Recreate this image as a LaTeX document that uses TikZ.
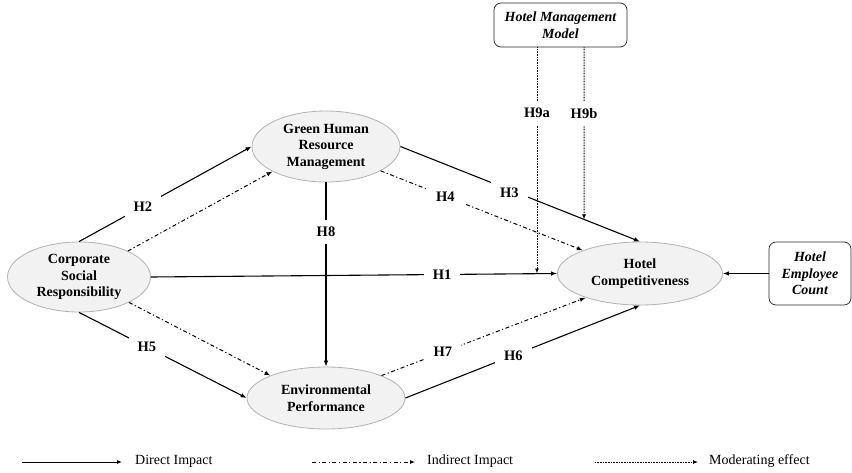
\documentclass[tikz,border=0pt]{standalone}
\usepackage{fontspec}
\setmainfont{Liberation Serif}
\usetikzlibrary{arrows.meta,shapes.geometric,calc}
\begin{document}
\begin{tikzpicture}[x=1pt,y=-1pt,
  construct/.style={ellipse,draw=gray!60,fill=gray!10,line width=0.8pt,inner sep=0pt,align=center,
    font=\fontsize{14}{16.5}\selectfont\bfseries},
  modbox/.style={rectangle,rounded corners=7pt,draw=black!85,line width=0.7pt,fill=white,inner sep=0pt,align=center,
    font=\fontsize{14}{16.5}\selectfont\bfseries\itshape},
  tip/.style={-{Latex[length=6pt,width=4.5pt]}},
  direct/.style={line width=1.1pt,tip},
  indirect/.style={line width=1pt,dash pattern=on 4pt off 2.5pt on 1.2pt off 2.5pt,tip},
  moder/.style={line width=1pt,dash pattern=on 0.8pt off 0.8pt,-{Latex[length=5pt,width=4pt]}},
  hlab/.style={fill=white,inner xsep=9pt,inner ysep=7pt,font=\fontsize{14.5}{16}\selectfont\bfseries},
  legtext/.style={anchor=west,inner sep=0pt,font=\fontsize{14}{16}\selectfont}]
\useasboundingbox (0,0) rectangle (852,472);

% constructs
\node[construct,minimum width=143pt,minimum height=70pt] (csr) at (79,277) {Corporate\\Social\\Responsibility};
\node[construct,minimum width=148pt,minimum height=71pt] (ghrm) at (326,146.5) {Green Human\\Resource\\Management};
\node[construct,minimum width=158pt,minimum height=62pt] (ep) at (326,398) {Environmental\\Performance};
\node[construct,minimum width=165pt,minimum height=63pt] (hc) at (640,273.5) {Hotel\\Competitiveness};

% moderators
\node[modbox,minimum width=133pt,minimum height=44pt] (hmm) at (560.5,25) {Hotel Management\\Model};
\node[modbox,minimum width=82pt,minimum height=63pt] (hec) at (810,273.5) {Hotel\\Employee\\Count};

% direct paths
\draw[direct] (csr.east) -- node[hlab,pos=0.717] {H1} (hc.west);
\draw[direct] (csr.north) -- node[hlab,pos=0.37] {H2} (ghrm.west);
\draw[direct] (ghrm.east) -- node[hlab,pos=0.455,yshift=-3pt] {H3} (hc.north);
\draw[direct] (csr.south) -- node[hlab,pos=0.405] {H5} (ep.west);
\draw[direct] (ep.east) -- node[hlab,pos=0.46] {H6} (hc.south);
\draw[direct] (ghrm.south) -- node[hlab,pos=0.27] {H8} (ep.north);
\draw[direct] (hec.west) -- (hc.east);

% indirect paths
\draw[indirect] (csr.28) -- (ghrm.205);
\draw[indirect] (csr.-27) -- (ep.158);
\draw[indirect] (ghrm.-24) -- node[hlab,pos=0.32] {H4} (hc.158);
\draw[indirect] (ep.22) -- node[hlab,pos=0.30] {H7} (hc.204);

% moderating effects
\coordinate (m1) at ([xshift=-23.5pt]hmm.south);
\coordinate (m2) at ([xshift=23.5pt]hmm.south);
\coordinate (m2low) at ([yshift=-300pt]m2);
\coordinate (m1e) at (m1 |- hc.west);
\coordinate (m2e) at (intersection of m2--m2low and ghrm.east--hc.north);
\draw[moder] (m1) -- node[hlab,pos=0.29] {H9a} (m1e);
\draw[moder] (m2) -- node[hlab,pos=0.384] {H9b} (m2e);

% legend
\coordinate (la1) at (22,462);
\coordinate (la2) at (122,462);
\coordinate (lb1) at (312,462);
\coordinate (lb2) at (415,462);
\coordinate (lc1) at (595,462);
\coordinate (lc2) at (698,462);
\draw[direct,line width=1pt,-{Latex[length=5pt,width=4pt]}] (la1) -- (la2);
\node[legtext] (lta) at (135,461) {Direct Impact};
\draw[indirect,line width=0.9pt,-{Latex[length=5pt,width=4pt]}] (lb1) -- (lb2);
\node[legtext] (ltb) at (427,461) {Indirect Impact};
\draw[moder,line width=0.8pt] (lc1) -- (lc2);
\node[legtext] (ltc) at (709,461) {Moderating effect};
\end{tikzpicture}
\end{document}
